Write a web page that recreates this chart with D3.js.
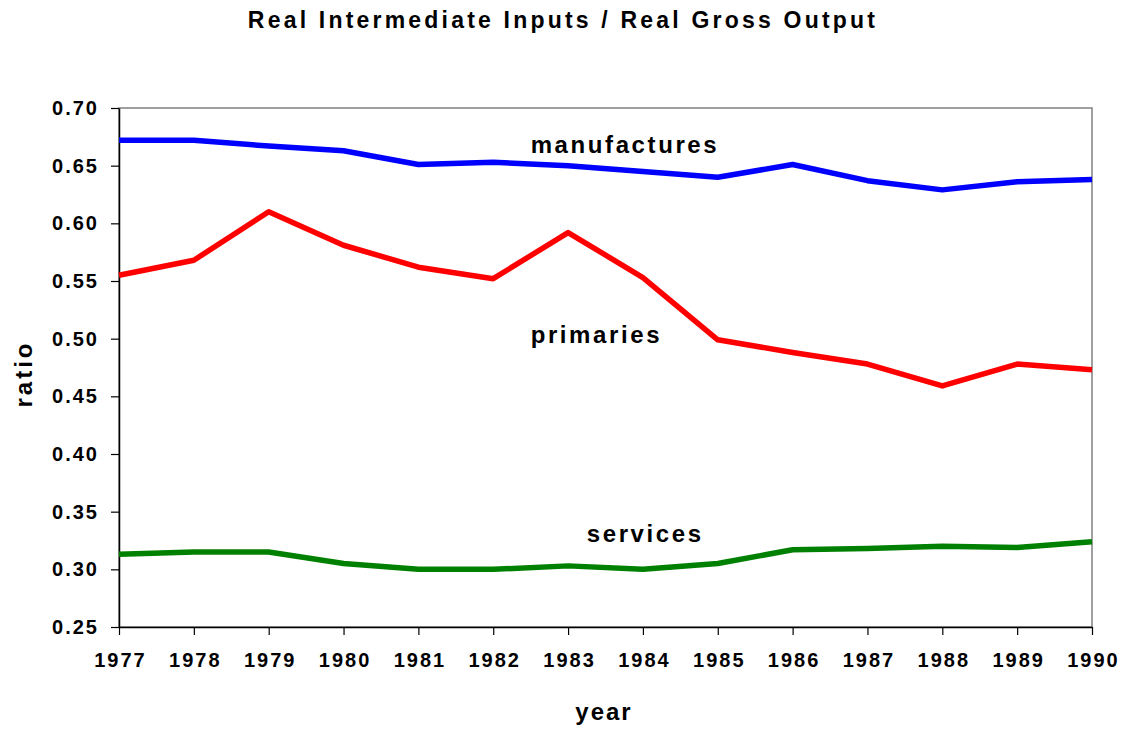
<!DOCTYPE html>
<html>
<head>
<meta charset="utf-8">
<script src="https://cdn.jsdelivr.net/npm/d3@7"></script>
<style>
  body { margin: 0; background: #fff; }
  svg { font-family: "Liberation Sans", Arial, sans-serif; font-weight: bold; }
</style>
</head>
<body>
<div id="chart"></div>
<script>
// data
const years = [1977, 1978, 1979, 1980, 1981, 1982, 1983, 1984, 1985, 1986, 1987, 1988, 1989, 1990];
const manufactures = [0.672, 0.672, 0.667, 0.663, 0.651, 0.653, 0.650, 0.645, 0.640, 0.651, 0.637, 0.629, 0.636, 0.638];
const primaries    = [0.555, 0.568, 0.610, 0.581, 0.562, 0.552, 0.592, 0.553, 0.499, 0.488, 0.478, 0.459, 0.478, 0.473];
const services     = [0.313, 0.315, 0.315, 0.305, 0.300, 0.300, 0.303, 0.300, 0.305, 0.317, 0.318, 0.320, 0.319, 0.324];
const yTicks = [0.25, 0.30, 0.35, 0.40, 0.45, 0.50, 0.55, 0.60, 0.65, 0.70];

const series = [
  { name: "manufactures", values: manufactures, color: "#0000ff", lx: 1982.5,  ly: 0.661 },
  { name: "primaries",    values: primaries,    color: "#ff0000", lx: 1982.5,  ly: 0.496 },
  { name: "services",     values: services,     color: "#008000", lx: 1983.25, ly: 0.324 }
];

const W = 1129, H = 733;
const margin = { top: 108, right: 37, bottom: 106, left: 119 };
const w = W - margin.left - margin.right,
      h = H - margin.top - margin.bottom;

const svg = d3.select("#chart").append("svg")
    .attr("width", W)
    .attr("height", H);

const g = svg.append("g")
    .attr("transform", `translate(${margin.left},${margin.top})`);

const x = d3.scaleLinear().domain([1977, 1990]).range([0, w]);
const y = d3.scaleLinear().domain([0.25, 0.70]).range([h, 0]);

// plot frame (grey top/right)
g.append("rect")
    .attr("width", w).attr("height", h)
    .attr("fill", "none")
    .attr("stroke", "#808080")
    .attr("stroke-width", 1.5);

// axes
const yAxis = g.append("g")
    .call(d3.axisLeft(y).tickValues(yTicks).tickFormat(d3.format(".2f")).tickSize(8).tickSizeOuter(0));
const xAxis = g.append("g")
    .attr("transform", `translate(0,${h})`)
    .call(d3.axisBottom(x).tickValues(years).tickFormat(d3.format("d")).tickSize(8).tickSizeOuter(0));

[yAxis, xAxis].forEach(a => {
  a.select(".domain").attr("stroke", "#000").attr("stroke-width", 1.5);
  a.selectAll(".tick line").attr("stroke", "#000").attr("stroke-width", 1.2);
  a.selectAll("text")
      .attr("fill", "#000")
      .attr("font-size", "20px")
      .attr("font-weight", "bold")
      .attr("letter-spacing", "2px")
      .attr("font-family", "'Liberation Sans', Arial, sans-serif");
});
yAxis.selectAll("text").attr("x", -20);
xAxis.selectAll("text").attr("y", 26).attr("dx", "1px");

// lines
const line = d3.line()
    .x((d, i) => x(years[i]))
    .y(d => y(d));

g.append("g").selectAll("path")
  .data(series)
  .join("path")
    .attr("d", d => line(d.values))
    .attr("fill", "none")
    .attr("stroke", d => d.color)
    .attr("stroke-width", 5.5)
    .attr("stroke-linejoin", "round");

// series labels
g.append("g").selectAll("text")
  .data(series)
  .join("text")
    .attr("x", d => x(d.lx))
    .attr("y", d => y(d.ly))
    .attr("font-size", "24px")
    .attr("letter-spacing", "2.6px")
    .text(d => d.name);

// title
svg.append("text")
    .attr("x", 563).attr("y", 28)
    .attr("text-anchor", "middle")
    .attr("font-size", "23px")
    .attr("letter-spacing", "3.2px")
    .text("Real Intermediate Inputs / Real Gross Output");

// axis titles
svg.append("text")
    .attr("transform", "translate(32,374) rotate(-90)")
    .attr("text-anchor", "middle")
    .attr("font-size", "24px")
    .attr("letter-spacing", "3px")
    .text("ratio");

svg.append("text")
    .attr("x", 604).attr("y", 720)
    .attr("text-anchor", "middle")
    .attr("font-size", "24px")
    .attr("letter-spacing", "2px")
    .text("year");
</script>
</body>
</html>
